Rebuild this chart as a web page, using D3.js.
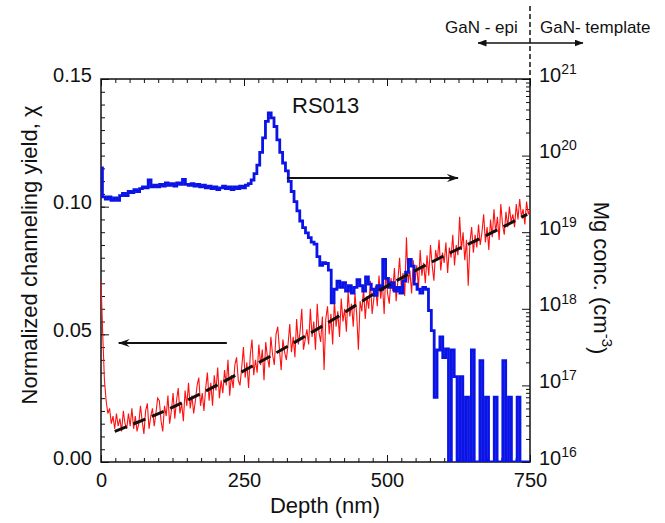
<!DOCTYPE html>
<html>
<head>
<meta charset="utf-8">
<script src="https://cdn.jsdelivr.net/npm/d3@7/dist/d3.min.js"></script>
<style>
    body { margin: 0; background: #fff; }
    #chart svg text { font-family: Arial, "Liberation Sans", sans-serif; fill: #111; }
</style>
</head>
<body>
<div id="chart"></div>
<script>

// ---- data ----

// channeling yield (red), one value every 3 nm starting at 0 nm
const yieldStart = 0, yieldStep = 3;
const channelingYield = [
    0.071, 0.050, 0.032, 0.024, 0.019, 0.021, 0.015, 0.018, 0.013, 0.019,
    0.014, 0.017, 0.012, 0.020, 0.015, 0.013, 0.019, 0.014, 0.021, 0.013,
    0.018, 0.012, 0.015, 0.022, 0.016, 0.011, 0.020, 0.023, 0.013, 0.018,
    0.021, 0.014, 0.019, 0.025, 0.024, 0.016, 0.012, 0.022, 0.018, 0.026,
    0.015, 0.020, 0.027, 0.017, 0.024, 0.029, 0.019, 0.023, 0.016, 0.028,
    0.022, 0.031, 0.021, 0.026, 0.019, 0.024, 0.030, 0.033, 0.022, 0.027,
    0.020, 0.029, 0.035, 0.024, 0.031, 0.022, 0.034, 0.028, 0.037, 0.025,
    0.032, 0.027, 0.036, 0.030, 0.040, 0.026, 0.034, 0.029, 0.038, 0.041,
    0.032, 0.030, 0.037, 0.045, 0.033, 0.039, 0.029, 0.042, 0.048, 0.034,
    0.040, 0.035, 0.046, 0.038, 0.044, 0.032, 0.047, 0.041, 0.037, 0.049,
    0.042, 0.038, 0.050, 0.053, 0.044, 0.036, 0.048, 0.043, 0.040, 0.046,
    0.054, 0.043, 0.049, 0.041, 0.056, 0.046, 0.051, 0.060, 0.044, 0.048,
    0.052, 0.046, 0.060, 0.049, 0.055, 0.044, 0.062, 0.051, 0.047, 0.057,
    0.036, 0.056, 0.061, 0.050, 0.058, 0.046, 0.063, 0.053, 0.059, 0.049,
    0.064, 0.055, 0.060, 0.051, 0.067, 0.057, 0.062, 0.053, 0.066, 0.058,
    0.044, 0.063, 0.059, 0.068, 0.056, 0.065, 0.060, 0.071, 0.058, 0.064,
    0.069, 0.061, 0.073, 0.064, 0.070, 0.058, 0.075, 0.066, 0.062, 0.072,
    0.067, 0.076, 0.063, 0.071, 0.080, 0.068, 0.074, 0.065, 0.088, 0.070,
    0.075, 0.066, 0.079, 0.071, 0.077, 0.068, 0.083, 0.073, 0.078, 0.070,
    0.081, 0.073, 0.085, 0.077, 0.071, 0.083, 0.079, 0.087, 0.075, 0.082,
    0.078, 0.086, 0.074, 0.084, 0.080, 0.089, 0.077, 0.085, 0.081, 0.096,
    0.083, 0.090, 0.079, 0.087, 0.069, 0.086, 0.092, 0.082, 0.089, 0.084,
    0.093, 0.085, 0.090, 0.097, 0.086, 0.092, 0.083, 0.095, 0.088, 0.099,
    0.090, 0.096, 0.087, 0.101, 0.093, 0.089, 0.098, 0.092, 0.100, 0.094,
    0.097, 0.092, 0.101, 0.095, 0.103, 0.096, 0.099, 0.093, 0.102, 0.097,
    0.099
];

// Mg concentration (blue, cm^-3), one value every 5 nm starting at 0 nm; 0 = no counts
const mgStart = 0, mgStep = 5;
const mgConc = [
    6.9e19, 2.9e19, 2.7e19, 2.9e19, 2.6e19, 2.8e19, 2.6e19, 3.0e19, 3.2e19, 3.0e19,
    3.4e19, 3.3e19, 3.6e19, 3.4e19, 3.7e19, 3.9e19, 3.8e19, 4.8e19, 3.9e19, 4.1e19,
    3.9e19, 4.2e19, 4.0e19, 4.4e19, 4.1e19, 4.3e19, 4.0e19, 4.4e19, 4.2e19, 4.9e19,
    4.2e19, 4.1e19, 4.3e19, 4.0e19, 4.2e19, 3.9e19, 4.1e19, 3.8e19, 4.0e19, 3.7e19,
    3.9e19, 3.6e19, 3.8e19, 4.0e19, 3.7e19, 3.9e19, 3.6e19, 3.9e19, 3.7e19, 4.0e19,
    3.8e19, 4.1e19, 4.3e19, 4.8e19, 5.8e19, 7.5e19, 1.1e20, 1.7e20, 2.8e20, 3.6e20,
    3.1e20, 2.4e20, 1.6e20, 1.1e20, 8.0e19, 6.3e19, 4.6e19, 3.4e19, 2.5e19, 1.9e19,
    1.4e19, 1.15e19, 9.8e18, 8.5e18, 7.4e18, 7.0e18, 4.8e18, 3.7e18, 4.0e18, 3.9e18,
    3.2e18, 1.2e18, 1.8e18, 2.3e18, 1.9e18, 2.2e18, 1.7e18, 2.0e18, 1.6e18, 1.9e18,
    2.4e18, 2.0e18, 1.7e18, 2.6e18, 2.1e18, 1.8e18, 1.5e18, 2.0e18, 1.8e18, 4.4e18,
    2.5e18, 1.9e18, 2.2e18, 1.7e18, 1.9e18, 1.6e18, 2.3e18, 3.0e18, 4.4e18, 3.6e18,
    2.1e18, 1.8e18, 1.6e18, 1.9e18, 1.8e18, 9.5e17, 5.2e17, 7e16, 2.9e17, 4.3e17,
    2.3e17, 3.0e17, 0, 2.9e17, 1.3e17, 0, 1.3e17, 0, 7e16, 0,
    2.9e17, 0, 0, 2.1e17, 0, 7e16, 0, 0, 7e16, 0,
    0, 2.1e17, 0, 7e16, 0, 0, 7e16, 0, 0, 0,
    0
];

// dashed fit through the channeling yield
const fitDepth = [24, 121, 260, 400, 493, 593, 685, 745];
const fitYield = [0.012, 0.021, 0.037, 0.055, 0.068, 0.080, 0.090, 0.097];

// axes
const depthTicks = [0, 250, 500, 750];
const yieldTicks = [0, 0.05, 0.10, 0.15];
const concDecades = [16, 17, 18, 19, 20, 21];


class ChannelingViz {

    constructor(parentElement) {
        this.parentElement = parentElement;
        this.initVis();
    }

    initVis() {
        let vis = this;
        vis.margin = {top: 79, right: 135, bottom: 61, left: 101};
        vis.width = 665 - vis.margin.left - vis.margin.right;
        vis.height = 523 - vis.margin.top - vis.margin.bottom;

        vis.root = d3.select("#" + vis.parentElement).append("svg")
            .attr("width", 665)
            .attr("height", 523);

        vis.svg = vis.root.append("g")
            .attr("transform", "translate(" + vis.margin.left + "," + vis.margin.top + ")");

        let defs = vis.root.append("defs");
        defs.append("clipPath").attr("id", "plot-clip")
            .append("rect").attr("width", vis.width).attr("height", vis.height);

        // open-backed arrow head used inside the plot
        defs.append("marker")
            .attr("id", "head")
            .attr("viewBox", "0 0 12 8")
            .attr("refX", 11).attr("refY", 4)
            .attr("markerWidth", 12).attr("markerHeight", 8)
            .attr("markerUnits", "userSpaceOnUse")
            .attr("orient", "auto-start-reverse")
            .append("path")
            .attr("d", "M0,0 L12,4 L0,8 L4,4 Z")
            .attr("fill", "#111");

        // small solid head for the top double arrow
        defs.append("marker")
            .attr("id", "head-small")
            .attr("viewBox", "0 0 9 7")
            .attr("refX", 8.5).attr("refY", 3.5)
            .attr("markerWidth", 9).attr("markerHeight", 7)
            .attr("markerUnits", "userSpaceOnUse")
            .attr("orient", "auto-start-reverse")
            .append("path")
            .attr("d", "M0,0 L9,3.5 L0,7 Z")
            .attr("fill", "#111");

        // scales
        vis.x = d3.scaleLinear().domain([0, 750]).range([0, vis.width]);
        vis.y = d3.scaleLinear().domain([0, 0.15]).range([vis.height, 0]);
        vis.yConc = d3.scaleLog().domain([1e16, 1e21]).range([vis.height, 0]);

        vis.yieldData = channelingYield.map((v, i) => ({depth: yieldStart + i * yieldStep, value: v}));
        vis.mgData = mgConc.map((v, i) => ({depth: mgStart + i * mgStep, value: v}));
        vis.fitData = fitDepth.map((d, i) => ({depth: d, value: fitYield[i]}));

        vis.drawAxes();
        vis.updateVis();
    }

    drawAxes() {
        let vis = this;

        // bottom + top (minor every 25 nm, labelled majors)
        let minorDepth = d3.range(0, 751, 25);
        vis.svg.append("g")
            .attr("transform", "translate(0," + vis.height + ")")
            .call(d3.axisBottom(vis.x).tickValues(minorDepth).tickSize(-4).tickFormat(""));
        vis.svg.append("g")
            .attr("class", "x-axis")
            .attr("transform", "translate(0," + vis.height + ")")
            .call(d3.axisBottom(vis.x).tickValues(depthTicks).tickSize(-7).tickPadding(11)
                .tickFormat(d3.format("d")));
        vis.svg.append("g")
            .call(d3.axisTop(vis.x).tickValues(minorDepth).tickSize(-4).tickFormat(""));
        vis.svg.append("g")
            .call(d3.axisTop(vis.x).tickValues(depthTicks).tickSize(-7).tickFormat(""));

        // left (minor every 0.005)
        vis.svg.append("g")
            .call(d3.axisLeft(vis.y).tickValues(d3.range(0, 0.1501, 0.005)).tickSize(-4).tickFormat(""));
        vis.svg.append("g")
            .attr("class", "y-axis")
            .call(d3.axisLeft(vis.y).tickValues(yieldTicks).tickSize(-8).tickPadding(9)
                .tickFormat(d3.format(".2f")));

        // right, log
        let minorConc = [];
        concDecades.slice(0, -1).forEach(e => {
            for (let m = 2; m <= 9; m++) minorConc.push(m * Math.pow(10, e));
        });
        vis.svg.append("g")
            .attr("transform", "translate(" + vis.width + ",0)")
            .call(d3.axisRight(vis.yConc).tickValues(minorConc).tickSize(-4).tickFormat(""));
        let right = vis.svg.append("g")
            .attr("class", "conc-axis")
            .attr("transform", "translate(" + vis.width + ",0)")
            .call(d3.axisRight(vis.yConc).tickValues(concDecades.map(e => Math.pow(10, e)))
                .tickSize(-8).tickPadding(9).tickFormat(""));

        right.selectAll(".tick text").each(function (d) {
            let t = d3.select(this).attr("dy", "0.1em");
            t.append("tspan").text("10");
            t.append("tspan").attr("dy", "-0.55em").attr("font-size", 14)
                .text(Math.round(Math.log10(d)));
        });

        vis.svg.selectAll(".domain").remove();
        vis.svg.selectAll(".tick line").attr("stroke", "#111").attr("stroke-width", 1);
        vis.svg.selectAll(".tick text").attr("font-size", 20).attr("fill", "#111");
        vis.svg.selectAll(".y-axis .tick text").attr("dy", "0.1em");

        // frame
        vis.svg.append("rect")
            .attr("width", vis.width).attr("height", vis.height)
            .attr("fill", "none").attr("stroke", "#111").attr("stroke-width", 1.5);

        // titles
        vis.root.append("text")
            .attr("x", 325).attr("y", 513)
            .attr("text-anchor", "middle").attr("font-size", 22)
            .text("Depth (nm)");

        vis.root.append("text")
            .attr("transform", "translate(37,255) rotate(-90)")
            .attr("text-anchor", "middle").attr("font-size", 22)
            .text("Normalized channeling yield, \u03C7");

        let rt = vis.root.append("text")
            .attr("transform", "translate(594,278) rotate(90)")
            .attr("text-anchor", "middle").attr("font-size", 22);
        rt.append("tspan").text("Mg conc. (cm");
        rt.append("tspan").attr("dy", "-0.5em").attr("font-size", 15).text("-3");
        rt.append("tspan").attr("dy", "0.5em").text(")");
    }

    updateVis() {
        let vis = this;
        let plot = vis.svg.append("g").attr("clip-path", "url(#plot-clip)");

        let yieldLine = d3.line()
            .x(d => vis.x(d.depth))
            .y(d => vis.y(d.value));

        let concLine = d3.line()
            .curve(d3.curveStep)
            .x(d => vis.x(d.depth))
            .y(d => vis.yConc(Math.max(d.value, 1e16)));

        plot.append("path")
            .datum(vis.yieldData)
            .attr("class", "yield-line")
            .attr("fill", "none")
            .attr("stroke", "#ff1010")
            .attr("stroke-width", 1.1)
            .attr("d", yieldLine);

        plot.append("path")
            .datum(vis.mgData)
            .attr("class", "mg-line")
            .attr("fill", "none")
            .attr("stroke", "#0a14e6")
            .attr("stroke-width", 2.8)
            .attr("stroke-linejoin", "miter")
            .attr("d", concLine);

        plot.append("path")
            .datum(vis.fitData)
            .attr("class", "fit-line")
            .attr("fill", "none")
            .attr("stroke", "#111")
            .attr("stroke-width", 3)
            .attr("stroke-dasharray", "13,7")
            .attr("d", d3.line().curve(d3.curveMonotoneX).x(d => vis.x(d.depth)).y(d => vis.y(d.value)));

        // arrows pointing to the axis each curve belongs to
        vis.svg.append("line")
            .attr("x1", vis.x(325)).attr("y1", vis.y(0.1112))
            .attr("x2", vis.x(624)).attr("y2", vis.y(0.1112))
            .attr("stroke", "#111").attr("stroke-width", 2)
            .attr("marker-end", "url(#head)");
        vis.svg.append("line")
            .attr("x1", vis.x(220)).attr("y1", vis.y(0.0466))
            .attr("x2", vis.x(31)).attr("y2", vis.y(0.0466))
            .attr("stroke", "#111").attr("stroke-width", 2)
            .attr("marker-end", "url(#head)");

        vis.svg.append("text")
            .attr("x", vis.x(334)).attr("y", vis.y(0.1367))
            .attr("font-size", 22)
            .text("RS013");

        // epi / template boundary above the plot
        vis.root.append("line")
            .attr("x1", vis.margin.left + vis.width).attr("y1", 6)
            .attr("x2", vis.margin.left + vis.width).attr("y2", vis.margin.top)
            .attr("stroke", "#111").attr("stroke-width", 1.5)
            .attr("stroke-dasharray", "5,3");
        vis.root.append("line")
            .attr("x1", 478).attr("y1", 43).attr("x2", 583).attr("y2", 43)
            .attr("stroke", "#111").attr("stroke-width", 1.5)
            .attr("marker-start", "url(#head-small)")
            .attr("marker-end", "url(#head-small)");
        vis.root.append("text")
            .attr("x", 445).attr("y", 33).attr("font-size", 17)
            .text("GaN - epi");
        vis.root.append("text")
            .attr("x", 540).attr("y", 33).attr("font-size", 17)
            .text("GaN- template");
    }
}

new ChannelingViz("chart");

</script>
</body>
</html>
